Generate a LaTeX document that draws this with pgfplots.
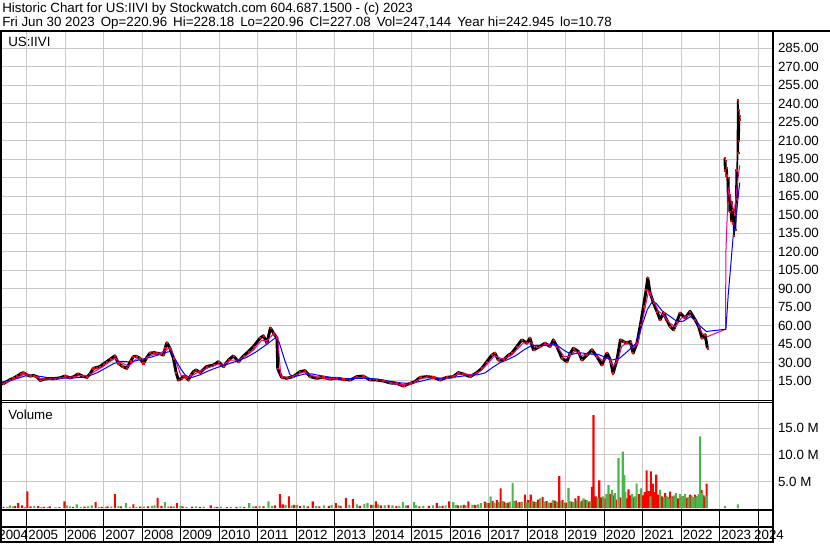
\documentclass[border=0pt]{standalone}
\usepackage{fontspec}
\setmainfont{Liberation Sans}
\usepackage{pgfplots}
\pgfplotsset{compat=1.18}
\usepackage{pgfplotstable}
\definecolor{gridgray}{RGB}{200,200,200}
\definecolor{volgreen}{RGB}{76,180,76}

\pgfplotstableread{
x y
2004.32 12.5
2004.40 13
2004.48 14.5
2004.56 16
2004.65 17.2
2004.75 19
2004.85 21
2004.91 21.8
2005.00 20
2005.09 19
2005.18 19.5
2005.26 18.5
2005.35 15.5
2005.45 16.5
2005.60 17
2005.73 17
2005.85 17.5
2006.00 19
2006.12 17.5
2006.22 18.5
2006.33 20.7
2006.45 19
2006.56 18
2006.65 21
2006.73 25.3
2006.82 26
2006.90 26.7
2007.00 29
2007.08 30.7
2007.18 33
2007.29 35.4
2007.38 29.4
2007.48 27
2007.60 25.3
2007.70 31
2007.77 34.8
2007.85 35
2007.94 33.5
2008.03 29.4
2008.12 34
2008.20 37.6
2008.30 38
2008.38 37.6
2008.47 37
2008.55 36
2008.60 42
2008.64 46
2008.72 41.6
2008.81 33.5
2008.88 22
2008.94 15.8
2009.02 17
2009.07 19
2009.13 18
2009.20 15.8
2009.27 20
2009.33 22.6
2009.40 24
2009.50 21.8
2009.67 26.7
2009.85 28
2009.98 30.7
2010.11 26.7
2010.24 32
2010.37 35.4
2010.50 30.7
2010.63 35.4
2010.76 38.9
2010.89 43
2011.06 49.8
2011.15 51.7
2011.24 45.7
2011.33 58
2011.41 53.9
2011.50 49.8
2011.52 25
2011.62 18
2011.75 17.2
2011.92 18.5
2012.10 22.6
2012.23 23.4
2012.36 18.5
2012.53 17.2
2012.70 18
2012.88 16.6
2013.05 17.2
2013.22 16.4
2013.40 15.8
2013.57 18.5
2013.74 19
2013.92 15.8
2014.09 15.8
2014.26 15
2014.44 13.4
2014.61 13.1
2014.78 10.9
2014.96 13.1
2015.08 14.4
2015.22 18
2015.39 18.5
2015.56 18
2015.74 15.8
2015.91 18
2016.08 18.5
2016.21 21.8
2016.34 20.7
2016.52 18.5
2016.69 21.8
2016.82 25.3
2016.95 30.7
2017.08 36
2017.16 37.6
2017.25 32
2017.38 32
2017.51 36
2017.60 37.6
2017.73 43
2017.86 48.4
2017.99 45.7
2018.07 49.8
2018.16 40.3
2018.33 43
2018.46 45.7
2018.59 43
2018.68 48.4
2018.77 43
2018.90 33.5
2019.03 30.7
2019.11 37
2019.20 41.6
2019.33 38.9
2019.42 32
2019.55 36
2019.68 40.3
2019.81 34.8
2019.94 28
2020.07 37.6
2020.16 32
2020.23 21.3
2020.33 32
2020.42 48.4
2020.50 47
2020.59 45.7
2020.68 47
2020.75 37.6
2020.85 45.7
2020.94 60.6
2021.02 75.6
2021.09 89.2
2021.13 98.7
2021.19 86.5
2021.28 78.3
2021.37 71.5
2021.45 64.7
2021.54 70.2
2021.62 64.7
2021.71 59.3
2021.80 56.6
2021.89 63.3
2021.97 70.2
2022.10 66.1
2022.23 71.5
2022.36 64.7
2022.45 59.3
2022.54 49.8
2022.62 52.5
2022.68 41.6
}\pricea

\pgfplotstableread{
x y
2023.12 196
2023.13 186
2023.15 194
2023.17 182
2023.19 188
2023.21 160
2023.23 180
2023.25 152
2023.27 166
2023.29 145
2023.31 160
2023.33 143
2023.35 154
2023.37 133
2023.39 150
2023.41 138
2023.43 186
2023.45 163
2023.47 243
2023.48 200
2023.49 235
2023.50 210
2023.51 230
2023.52 227
}\priceb

\pgfplotstableread{
x y
2004.32 12.5
2004.45 13.8
2004.60 15.5
2004.80 18.5
2004.95 20.5
2005.15 19.5
2005.35 17
2005.55 16.5
2005.80 17.3
2006.00 18
2006.20 18.3
2006.40 19.5
2006.60 19
2006.75 22.5
2006.95 26
2007.10 29.5
2007.30 33.5
2007.45 30
2007.65 27
2007.85 33
2008.00 32
2008.20 35.5
2008.45 37.5
2008.62 40
2008.72 42.5
2008.85 33
2009.00 20
2009.15 17.5
2009.30 19.5
2009.50 23
2009.70 25.5
2009.90 28
2010.10 28
2010.30 32
2010.50 32
2010.70 35.5
2010.90 40.5
2011.10 48
2011.25 48
2011.40 53
2011.50 51
2011.52 50
2011.60 19
2011.80 17.5
2012.00 20
2012.20 22.5
2012.40 19.5
2012.60 17.8
2012.85 17
2013.10 17
2013.35 16.5
2013.60 18
2013.80 18
2014.00 16.5
2014.25 15.5
2014.50 13.5
2014.75 12
2015.00 13
2015.20 16.5
2015.40 18.3
2015.60 17.8
2015.80 16.8
2016.00 18
2016.20 20.5
2016.40 20.5
2016.60 20
2016.80 23.5
2017.00 30
2017.15 35.5
2017.35 33
2017.55 35
2017.75 41
2017.90 46
2018.10 46
2018.25 42
2018.45 44.5
2018.65 45
2018.80 42
2018.95 35
2019.10 35
2019.25 39.5
2019.40 35.5
2019.60 37.5
2019.80 36
2019.95 31.5
2020.10 34
2020.22 27
2020.35 31
2020.45 43
2020.60 46
2020.75 42
2020.88 46
2021.00 65
2021.15 88
2021.25 82
2021.40 72
2021.55 68
2021.70 62
2021.85 59
2022.00 66
2022.20 68.5
2022.40 63
2022.55 53.5
2022.68 51
2023.15 57
2023.16 120
2023.22 171
2023.30 160
2023.38 152
2023.47 179
2023.52 190
}\maS

\pgfplotstableread{
x y
2004.32 14
2004.60 15.5
2004.80 17.5
2005.00 19.5
2005.20 19.5
2005.40 18.5
2005.60 17.5
2005.90 17.3
2006.20 17.5
2006.45 18
2006.65 19.5
2006.85 22
2007.05 25.5
2007.25 29
2007.45 31
2007.65 30.5
2007.85 31.5
2008.05 33
2008.25 34.5
2008.45 36.5
2008.65 38.5
2008.75 39
2008.85 33
2009.00 25
2009.11 20
2009.25 17.5
2009.50 20
2009.70 23
2009.95 26
2010.20 28.5
2010.45 31
2010.70 34
2010.95 38.5
2011.20 44
2011.45 49.8
2011.55 47
2011.70 32
2011.84 20
2011.95 18.5
2012.20 20.5
2012.40 20.8
2012.60 19.5
2012.90 18
2013.20 17
2013.50 17
2013.80 17.3
2014.10 16.5
2014.40 15
2014.70 13.5
2014.95 13
2015.20 14.5
2015.45 16.5
2015.70 17.3
2015.95 17.3
2016.20 18.5
2016.45 19.5
2016.70 20
2016.90 21.5
2017.10 26
2017.30 30
2017.50 32.5
2017.70 35.5
2017.90 40
2018.10 43.5
2018.30 44
2018.55 44
2018.75 44.5
2018.95 40
2019.15 36.5
2019.35 38
2019.60 37
2019.85 36.5
2020.05 34
2020.20 32
2020.40 33.5
2020.65 40.3
2020.83 45.7
2021.00 62
2021.12 73
2021.25 79.6
2021.35 78
2021.50 72
2021.71 67.4
2021.89 63.3
2022.05 63.5
2022.25 67.4
2022.50 59.3
2022.65 55.2
2023.16 57
2023.22 85
2023.27 103
2023.35 133
2023.44 152
2023.50 171
2023.52 176
}\maL

\pgfplotstableread{
x v
2004.40 0.15
2004.70 0.4
2004.78 0.9
2004.88 0.5
2005.016 3.15
2005.10 0.3
2005.30 0.35
2005.45 0.2
2005.60 0.3
2005.85 0.15
2005.98 1.25
2006.20 0.2
2006.50 0.25
2006.79 1.1
2006.95 0.2
2007.10 0.3
2007.29 2.6
2007.45 0.3
2007.77 0.7
2007.95 0.25
2008.15 0.3
2008.40 1.9
2008.50 0.4
2008.75 0.3
2008.90 0.9
2009.05 0.3
2009.30 0.25
2009.50 0.2
2009.78 0.5
2009.95 0.2
2010.20 0.15
2010.45 0.2
2010.65 0.2
2010.95 0.3
2011.15 0.3
2011.45 0.5
2011.58 2.6
2011.65 0.7
2011.81 2.2
2011.95 0.6
2012.10 0.4
2012.30 0.3
2012.43 1.25
2012.60 0.3
2012.85 0.4
2013.03 0.9
2013.15 0.4
2013.29 1.9
2013.47 1.7
2013.65 0.4
2013.95 0.6
2014.07 1.25
2014.20 0.5
2014.40 0.6
2014.60 0.4
2014.90 0.5
2015.20 0.3
2015.45 0.4
2015.65 0.9
2015.80 0.4
2015.97 1.25
2016.20 0.5
2016.35 0.6
2016.47 1.25
2016.65 0.6
2016.90 1.2
2017.00 0.9
2017.10 1.3
2017.21 1.5
2017.31 3.7
2017.40 1.2
2017.50 1.0
2017.70 1.4
2017.80 1.1
2017.94 2.5
2018.02 1.5
2018.09 2.5
2018.18 1.2
2018.28 1.6
2018.40 2.1
2018.50 1.3
2018.62 1.0
2018.72 1.4
2018.83 6.0
2018.92 1.5
2019.00 1.0
2019.15 1.2
2019.25 1.8
2019.33 2.3
2019.42 1.4
2019.50 1.6
2019.60 1.2
2019.68 4.0
2019.72 17.5
2019.78 2.2
2019.87 5.2
2019.93 2.0
2020.03 1.8
2020.15 2.6
2020.25 2.4
2020.30 1.6
2020.42 2.0
2020.58 1.8
2020.63 3.5
2020.68 2.4
2020.76 2.0
2020.90 2.6
2021.00 2.4
2021.05 3.0
2021.10 7.1
2021.15 3.2
2021.21 6.9
2021.26 4.6
2021.30 3.0
2021.35 6.3
2021.40 2.5
2021.50 2.2
2021.58 2.8
2021.65 2.0
2021.71 3.1
2021.78 2.2
2021.92 1.8
2022.03 2.2
2022.15 1.9
2022.23 2.5
2022.30 2.0
2022.36 2.5
2022.42 2.2
2022.53 3.4
2022.58 2.4
2022.62 2.0
2022.66 4.6
}\volred

\pgfplotstableread{
x v
2004.50 0.2
2004.57 0.5
2004.65 0.3
2004.95 0.2
2005.20 0.4
2005.38 0.2
2005.55 0.15
2005.75 0.2
2006.04 0.5
2006.12 0.3
2006.30 0.7
2006.40 0.2
2006.60 0.3
2006.69 0.5
2006.88 0.2
2007.05 0.2
2007.20 0.3
2007.38 0.4
2007.58 0.9
2007.68 0.2
2007.85 0.2
2008.05 0.25
2008.25 0.4
2008.32 0.5
2008.59 1.1
2008.68 0.3
2008.82 0.3
2009.00 0.35
2009.15 0.2
2009.40 0.3
2009.60 0.25
2009.88 0.2
2010.05 0.25
2010.30 0.2
2010.55 0.25
2010.78 0.9
2010.88 0.3
2011.05 0.4
2011.28 1.25
2011.37 0.4
2011.72 0.6
2011.88 0.5
2012.02 0.6
2012.20 0.5
2012.52 0.4
2012.72 0.5
2012.92 0.6
2013.10 0.5
2013.38 0.6
2013.58 0.7
2013.77 0.8
2013.85 0.9
2014.00 0.6
2014.13 0.7
2014.30 0.5
2014.50 0.5
2014.68 0.4
2014.77 1.1
2014.85 0.5
2015.06 1.1
2015.12 0.5
2015.30 0.4
2015.55 0.5
2015.72 0.4
2015.88 0.5
2016.08 1.1
2016.15 0.6
2016.28 0.5
2016.40 0.5
2016.58 0.6
2016.72 0.7
2016.80 0.9
2016.95 1.0
2017.05 2.2
2017.15 1.0
2017.26 1.1
2017.36 1.3
2017.45 0.9
2017.55 1.2
2017.62 4.75
2017.67 1.3
2017.75 1.0
2017.86 1.2
2017.98 1.1
2018.05 1.0
2018.13 1.4
2018.23 1.1
2018.33 1.8
2018.45 1.2
2018.56 1.0
2018.67 1.5
2018.77 1.2
2018.88 1.4
2018.96 1.0
2019.07 3.8
2019.10 1.3
2019.20 1.1
2019.29 1.4
2019.38 1.2
2019.46 1.8
2019.55 1.5
2019.64 1.3
2019.83 1.9
2019.97 2.2
2020.06 2.6
2020.11 4.3
2020.20 3.4
2020.28 2.8
2020.37 9.4
2020.48 10.6
2020.52 6.2
2020.55 3.0
2020.72 2.6
2020.80 2.2
2020.84 4.6
2020.95 3.7
2021.20 2.2
2021.45 3.4
2021.55 2.0
2021.62 2.3
2021.68 1.8
2021.75 2.0
2021.82 2.4
2021.86 2.8
2021.97 2.6
2022.00 2.0
2022.06 2.3
2022.10 2.6
2022.19 2.1
2022.27 2.4
2022.33 2.0
2022.40 2.3
2022.45 2.6
2022.49 13.5
2022.55 2.8
2022.64 2.3
2023.14 0.4
2023.47 0.7
}\volgreen

\begin{document}
\begin{tikzpicture}[font=\fontsize{10}{12}\selectfont]
\path[use as bounding box] (0pt,0pt) rectangle (622.5pt,407.25pt);
\pgfplotsset{
  chartbase/.style={
    anchor=south west, scale only axis, width=580pt,
    xmin=2004.3065, xmax=2024.392,
    axis line style={black, line width=0.75pt},
    major tick length=0pt,
    /pgf/number format/assume math mode=true,
    ticklabel style={font=\fontsize{10}{12}\selectfont},
  }
}
% price panel
\begin{axis}[chartbase, at={(0pt,107.25pt)}, height=276pt,
  ymin=-0.42, ymax=298.2,
  xtick={2005,...,2024}, xticklabels={},
  ytick={15,30,...,285}, yticklabel pos=right,
  yticklabel={\pgfmathprintnumber[fixed,fixed zerofill,precision=2]{\tick}},
  grid=major, major grid style={gridgray, line width=0.75pt},
]
\addplot[black, line width=2.2pt, line join=round] table[x=x,y=y]{\pricea};
\addplot[black, line width=1.3pt] table[x=x,y=y]{\priceb};
\addplot[red, only marks, mark=square*, mark size=0.45pt] table[x=x,y=y]{\pricea};
\addplot[red, only marks, mark=square*, mark size=0.45pt] table[x=x,y=y]{\priceb};
\addplot[magenta, line width=0.75pt] table[x=x,y=y]{\maS};
\addplot[blue, line width=0.75pt] table[x=x,y=y]{\maL};
\end{axis}
% volume panel
\begin{axis}[chartbase, at={(0pt,24.75pt)}, height=80.625pt,
  ymin=-0.376, ymax=19.86,
  xtick={2005,...,2024}, xticklabels={},
  ytick={5,10,15}, yticklabel pos=right,
  yticklabel={\pgfmathprintnumber[fixed,fixed zerofill,precision=1]{\tick} M},
  grid=major, major grid style={gridgray, line width=0.75pt},
]
\addplot[ybar, bar width=1.6pt, bar shift=0pt, fill=red, draw=none] table[x=x,y=v]{\volred};
\addplot[ybar, bar width=1.6pt, bar shift=0pt, fill=volgreen, draw=none] table[x=x,y=v]{\volgreen};
\end{axis}
% date strip
\begin{axis}[chartbase, at={(0pt,0.75pt)}, height=24pt,
  ymin=0, ymax=1, ytick=\empty,
  xtick={2004.65,2005.43,2006.43,2007.43,2008.43,2009.43,2010.43,2011.43,2012.43,2013.43,2014.43,2015.43,2016.43,2017.43,2018.43,2019.43,2020.43,2021.43,2022.43,2023.43,2024.28},
  xticklabels={2004,2005,2006,2007,2008,2009,2010,2011,2012,2013,2014,2015,2016,2017,2018,2019,2020,2021,2022,2023,2024},
  xticklabel style={anchor=south, inner sep=0pt, yshift=1.5pt},
  extra x ticks={2005,...,2024}, extra x tick labels={},
  extra x tick style={grid=major, major grid style={black, line width=0.75pt}},
]
\end{axis}
% frame lines
\draw[line width=1.5pt] (0pt,384pt) -- (622.5pt,384pt);
\draw[line width=1.5pt] (580pt,384pt) -- (580pt,0pt);
\draw[line width=1.5pt] (0.4pt,384pt) -- (0.4pt,0pt);
\draw[line width=1.5pt] (0pt,24.75pt) -- (580pt,24.75pt);
\draw[line width=1.5pt] (0pt,12pt) -- (580pt,12pt);
\draw[line width=1.5pt] (0pt,1pt) -- (580pt,1pt);
% texts
\node[anchor=base west, inner sep=0pt] at (1.5pt,397.9pt) {Historic Chart for US:IIVI by Stockwatch.com 604.687.1500 - (c) 2023};
\node[anchor=base west, inner sep=0pt] at (1.5pt,387.4pt) {Fri Jun 30 2023\hspace{1.7pt} Op=220.96\hspace{1.7pt} Hi=228.18\hspace{1.7pt} Lo=220.96\hspace{1.7pt} Cl=227.08\hspace{1.7pt} Vol=247,144\hspace{1.7pt} Year hi=242.945\hspace{1.7pt} lo=10.78};
\node[anchor=base west, inner sep=0pt] at (6pt,372pt) {US:IIVI};
\node[anchor=base west, inner sep=0pt] at (6pt,93pt) {Volume};
\end{tikzpicture}
\end{document}
